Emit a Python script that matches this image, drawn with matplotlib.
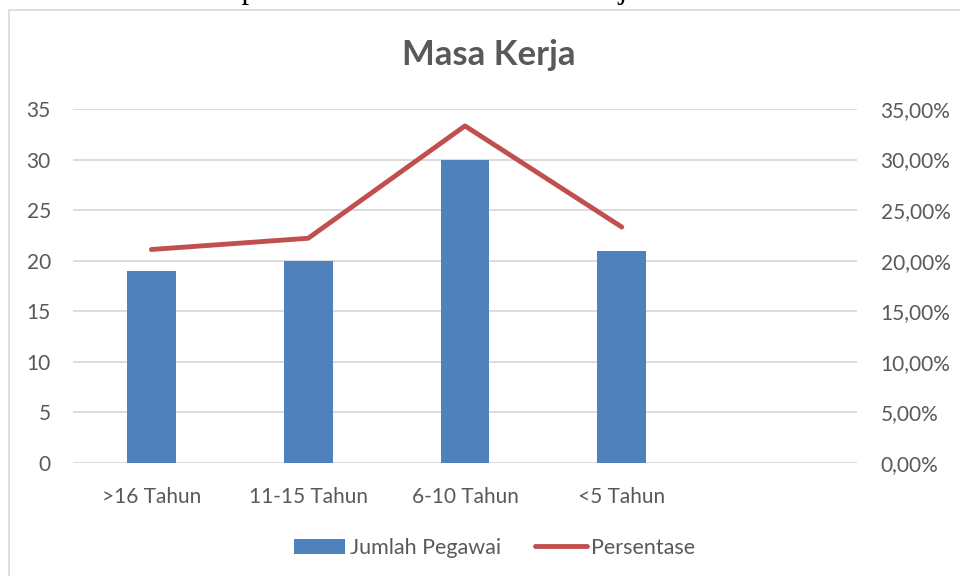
import matplotlib
matplotlib.use("Agg")
import matplotlib.pyplot as plt
from matplotlib.patches import Rectangle
from matplotlib.ticker import FuncFormatter, MultipleLocator

categories = [">16 Tahun", "11-15 Tahun", "6-10 Tahun", "<5 Tahun", ""]
jumlah = [19, 20, 30, 21]
persen = [21.11, 22.22, 33.33, 23.33]

plt.rcParams['font.family'] = ['Lato', 'DejaVu Sans']
txt = '#595959'
grid = '#D9D9D9'

fig = plt.figure(figsize=(9.6, 5.76), dpi=100)
fig.patch.set_facecolor('white')

# partly visible caption line above the chart (cut off by the crop)
fig.text(0.03, 1 + 2 / 576, "Karakteristik Responden Berdasarkan Masa Kerja",
         family='Liberation Serif', fontsize=22, color='black',
         ha='left', va='baseline')

# chart frame
fig.patches.append(Rectangle((9 / 960, -0.05), 1.2, 1 - 10 / 576 + 0.05,
                             transform=fig.transFigure, fill=False,
                             edgecolor=grid, lw=1.2))

ax = fig.add_axes([73 / 960, 1 - 463 / 576, 784 / 960, 354 / 576])
x = list(range(len(categories)))
ax.bar(x[:len(jumlah)], jumlah, width=0.31, color='#4F81BD', zorder=2,
       label='Jumlah Pegawai')
ax.set_xlim(-0.5, len(categories) - 0.5)
ax.set_ylim(0, 35)
ax.yaxis.set_major_locator(MultipleLocator(5))
ax.set_xticks(x)
ax.set_xticklabels(categories)
ax.grid(axis='y', color=grid, lw=1.3, zorder=0)
ax.set_axisbelow(True)
for s in ax.spines.values():
    s.set_visible(False)
ax.tick_params(axis='both', length=0, colors=txt, labelsize=15)
ax.tick_params(axis='y', pad=16)
ax.tick_params(axis='x', pad=17)

ax2 = ax.twinx()
ax2.plot(x[:len(persen)], persen, color='#C0504D', lw=3.5,
         solid_capstyle='round', zorder=3, label='Persentase')
ax2.set_ylim(0, 35)
ax2.yaxis.set_major_locator(MultipleLocator(5))
ax2.yaxis.set_major_formatter(FuncFormatter(lambda v, p: f"{v:.2f}%".replace('.', ',')))
for s in ax2.spines.values():
    s.set_visible(False)
ax2.tick_params(axis='y', length=0, colors=txt, labelsize=15, pad=17)

fig.text(489 / 960, 1 - 55 / 576, "Masa Kerja", ha='center', va='center',
         fontsize=25, fontweight='bold', color=txt)

h1, l1 = ax.get_legend_handles_labels()
h2, l2 = ax2.get_legend_handles_labels()
fig.legend(h1 + h2, l1 + l2, loc='center', bbox_to_anchor=(0.515, 1 - 548 / 576),
           ncol=2, frameon=False, fontsize=15.5, labelcolor=txt,
           handlelength=2.4, handleheight=0.75, handletextpad=0.2,
           columnspacing=1.6)

fig.savefig("out.png", dpi=100)
